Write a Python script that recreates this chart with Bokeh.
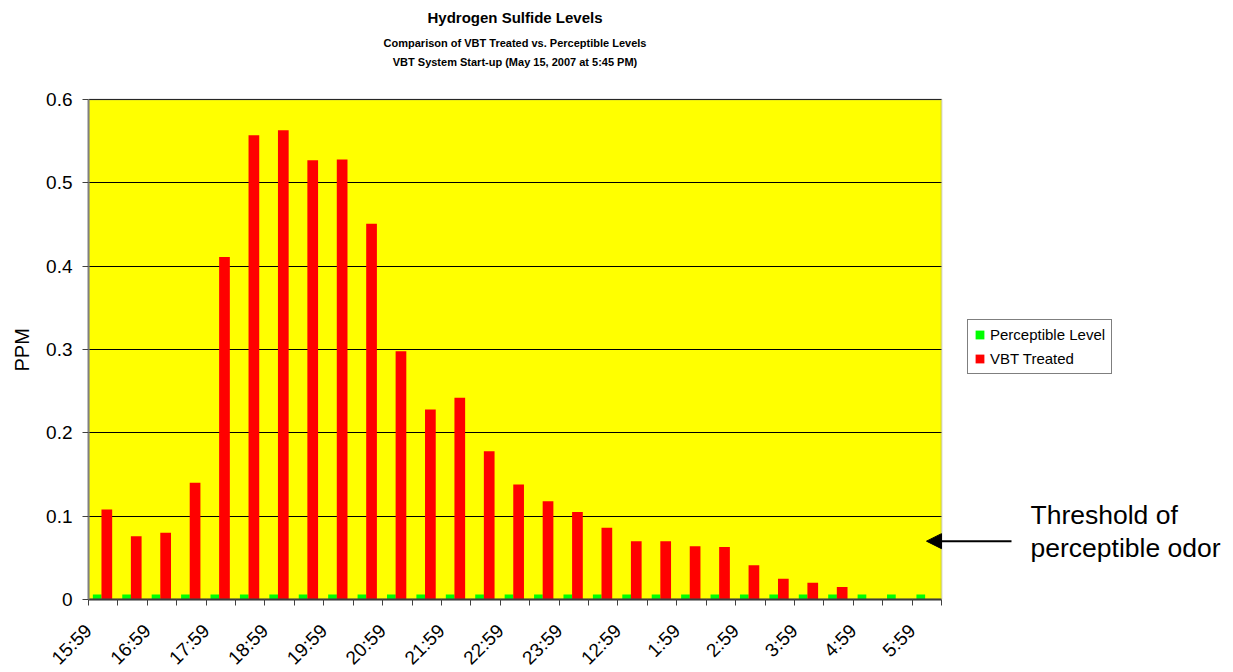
from bokeh.plotting import figure
from bokeh.models import (ColumnDataSource, FixedTicker, Range1d, Legend, LegendItem, Title,
                          Label, Arrow, NormalHead, CustomJSTickFormatter, BoxAnnotation)
from bokeh.transform import dodge
from bokeh.embed import file_html
from bokeh.resources import INLINE

# ---- data ----
times = ["15:59", "16:29", "16:59", "17:29", "17:59", "18:29", "18:59", "19:29",
         "19:59", "20:29", "20:59", "21:29", "21:59", "22:29", "22:59", "23:29",
         "23:59", "12:29", "12:59", "1:29", "1:59", "2:29", "2:59", "3:29",
         "3:59", "4:29", "4:59", "5:29", "5:59"]
perceptible = [0.006, 0.006, 0.006, 0.006, 0.006, 0.006, 0.006, 0.006, 0.006, 0.006,
               0.006, 0.006, 0.006, 0.006, 0.006, 0.006, 0.006, 0.006, 0.006, 0.006,
               0.006, 0.006, 0.006, 0.006, 0.006, 0.006, 0.006, 0.006, 0.006]
vbt_treated = [0.108, 0.076, 0.080, 0.140, 0.411, 0.557, 0.563, 0.527, 0.528, 0.451,
               0.298, 0.228, 0.242, 0.178, 0.138, 0.118, 0.105, 0.086, 0.070, 0.070,
               0.064, 0.063, 0.041, 0.025, 0.020, 0.015, 0.0, 0.0, 0.0]
y_ticks = [0, 0.1, 0.2, 0.3, 0.4, 0.5, 0.6]
y_max = 0.6
threshold_level = 0.07

FONT = "Liberation Sans"

# ---- layout (pixels) ----
AREA_W, AREA_H = 853, 500          # yellow plotting area
FRAME_W, FRAME_H = 1140, 599       # frame extends right (annotations) and up (titles)
n = len(times)
px_x = AREA_W / n                  # pixels per category
px_y = AREA_H / y_max              # pixels per ppm


def fx(px):   # frame pixel -> x data
    return px / px_x


def fy(px_from_top):   # frame pixel (from top) -> y data
    return (FRAME_H - px_from_top) / px_y


idx = list(range(n))
src = ColumnDataSource(dict(idx=[i + 0.5 for i in idx], times=times,
                            perceptible=perceptible, vbt=vbt_treated))

p = figure(x_range=Range1d(0, fx(FRAME_W)), y_range=Range1d(0, fy(0)),
           frame_width=FRAME_W, frame_height=FRAME_H,
           min_border_left=88, min_border_right=0, min_border_top=0, min_border_bottom=63,
           toolbar_location=None, output_backend="svg", title=None)

p.background_fill_color = "white"
p.border_fill_color = "white"
p.outline_line_color = None

# yellow plot area
p.add_layout(BoxAnnotation(left=0, right=n, bottom=0, top=y_max, level="image",
                           fill_color="#FFFF00", fill_alpha=1.0, line_color=None))

g = p.vbar(x=dodge("idx", -0.204, range=p.x_range), top="perceptible", width=0.296,
           source=src, fill_color="#00FF00", line_color=None)
r = p.vbar(x=dodge("idx", 0.123, range=p.x_range), top="vbt", width=0.364,
           source=src, fill_color="#FF0000", line_color=None)

# plot area border
p.add_layout(BoxAnnotation(left=0, right=n, bottom=0, top=y_max, level="annotation",
                           fill_alpha=0, line_color="#808080", line_width=2))

# x axis: labels on every other half hour, tick marks at category boundaries
xa = p.xaxis[0]
xa.bounds = (0, n)
xa.ticker = FixedTicker(ticks=[i for i in idx if i % 2 == 0], minor_ticks=list(range(n + 1)))
xa.formatter = CustomJSTickFormatter(args=dict(times=times),
                                     code="const i = Math.round(tick); return times[i] || '';")
xa.major_tick_out = 0
xa.major_tick_in = 0
xa.minor_tick_out = 6
xa.minor_tick_in = 0
xa.minor_tick_line_color = "#404040"
xa.axis_line_color = "#303030"
xa.axis_line_width = 2
xa.major_label_orientation = 0.785398
xa.major_label_standoff = 22
xa.major_label_text_font = FONT
xa.major_label_text_font_size = "19px"
xa.major_label_text_color = "black"

ya = p.yaxis[0]
ya.bounds = (0, y_max)
ya.ticker = FixedTicker(ticks=y_ticks)
ya.formatter = CustomJSTickFormatter(code="return tick < 1e-9 ? '0' : tick.toFixed(1);")
ya.major_tick_out = 6
ya.major_tick_in = 0
ya.minor_tick_out = 0
ya.minor_tick_in = 0
ya.major_tick_line_color = "#404040"
ya.axis_line_color = "#808080"
ya.axis_line_width = 2
ya.major_label_standoff = 10
ya.major_label_text_font = FONT
ya.major_label_text_font_size = "19px"
ya.major_label_text_color = "black"

# y axis title, centred on the plotting area (not on the whole frame)
p.add_layout(Title(text="PPM", align="left", offset=AREA_H / 2 - 22, vertical_align="top",
                   text_font=FONT, text_font_size="20px", text_font_style="normal",
                   text_color="black", standoff=18), "left")

p.xgrid.visible = False
p.ygrid.grid_line_color = "black"
p.ygrid.grid_line_width = 1
p.ygrid.cross_bounds = (0, n)

# titles
for txt, size, ypix in [("Hydrogen Sulfide Levels", "15px", 17),
                        ("Comparison of VBT Treated vs. Perceptible Levels", "11px", 42),
                        ("VBT System Start-up (May 15, 2007 at 5:45 PM)", "11px", 61)]:
    p.add_layout(Label(x=n / 2, y=fy(ypix), text=txt, text_font=FONT, text_font_size=size,
                       text_font_style="bold", text_align="center", text_baseline="middle",
                       text_color="black"))

legend = Legend(items=[LegendItem(label="Perceptible Level", renderers=[g]),
                       LegendItem(label="VBT Treated", renderers=[r])],
                location=(879, 225), border_line_color="black",
                border_line_width=1, background_fill_color="white", background_fill_alpha=1,
                label_text_font=FONT, label_text_font_size="15px", label_text_color="black",
                glyph_width=11, glyph_height=11, padding=6, spacing=7, label_standoff=5)
p.add_layout(legend)

# threshold annotation
p.add_layout(Arrow(end=NormalHead(size=15, fill_color="black", line_color="black"),
                   x_start=fx(923), y_start=threshold_level, x_end=fx(838), y_end=threshold_level,
                   line_color="black", line_width=2))
for txt, ypix in [("Threshold of", 514), ("perceptible odor", 547)]:
    p.add_layout(Label(x=fx(942), y=fy(ypix), text=txt,
                       text_font=FONT, text_font_size="26.5px", text_baseline="alphabetic",
                       text_align="left", text_color="black"))

open("out.html", "w").write(file_html(p, INLINE))
